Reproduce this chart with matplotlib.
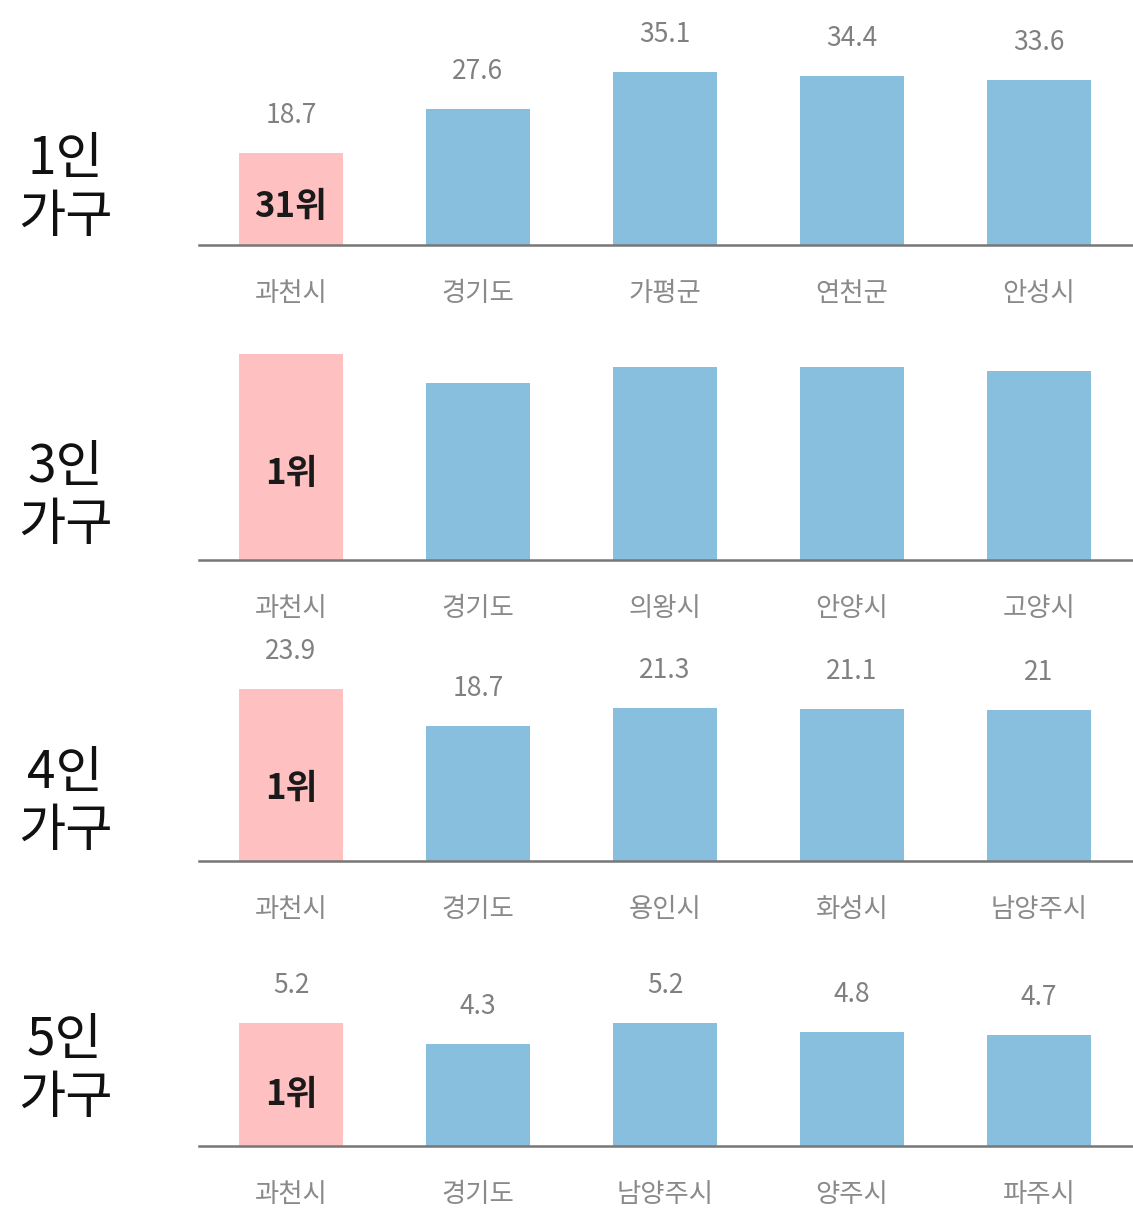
import matplotlib.pyplot as plt

plt.rcParams['font.family'] = ['Noto Sans CJK KR', 'DejaVu Sans']

# data
row_titles = ['1인\n가구', '3인\n가구', '4인\n가구', '5인\n가구']
cats1 = ['과천시', '경기도', '가평군', '연천군', '안성시']
vals1 = [18.7, 27.6, 35.1, 34.4, 33.6]
cats3 = ['과천시', '경기도', '의왕시', '안양시', '고양시']
vals3 = [25.5, 21.9, 23.9, 23.9, 23.4]   # no labels shown in source, estimated
cats4 = ['과천시', '경기도', '용인시', '화성시', '남양주시']
vals4 = [23.9, 18.7, 21.3, 21.1, 21.0]
cats5 = ['과천시', '경기도', '남양주시', '양주시', '파주시']
vals5 = [5.2, 4.3, 5.2, 4.8, 4.7]
ranks = ['31위', '1위', '1위', '1위']
show_values = [True, False, True, True]

pink = '#FFC0C1'
blue = '#88BFDE'

W, H = 1133, 1209
fig = plt.figure(figsize=(W / 100, H / 100), dpi=100)

# layout in pixels: baseline y, px per unit, row title centre y
baselines = [245, 560, 861, 1146]
px_per_unit = [4.92, 8.08, 7.2, 23.65]
title_y = [188, 496, 802, 1069]
ax_h = 230
left, right = 199, 1133
step = 187
first_center = 291

panels = [(cats1, vals1), (cats3, vals3), (cats4, vals4), (cats5, vals5)]

for k, (cats, vals) in enumerate(panels):
    b = baselines[k]
    ax = fig.add_axes([left / W, (H - b) / H, (right - left) / W, ax_h / H])
    ax.patch.set_visible(False)  # keep labels of the panel above visible
    xmin = -(first_center - left) / step
    ax.set_xlim(xmin, xmin + (right - left) / step)
    ax.set_ylim(0, ax_h / px_per_unit[k])
    colors = [pink] + [blue] * (len(vals) - 1)
    ax.bar(range(len(vals)), vals, width=104 / step, color=colors, zorder=2)

    for s in ['top', 'right', 'left']:
        ax.spines[s].set_visible(False)
    ax.spines['bottom'].set_color('#777777')
    ax.spines['bottom'].set_linewidth(1.8)
    ax.set_yticks([])
    ax.set_xticks(range(len(cats)))
    ax.set_xticklabels(cats, fontsize=19, color='#8a8a8a')
    ax.tick_params(axis='x', length=0, pad=25)

    if show_values[k]:
        for i, v in enumerate(vals):
            ax.annotate(f'{v:g}', (i, v), xytext=(0, 27), textcoords='offset points',
                        ha='center', va='center', fontsize=19, color='#808080',
                        annotation_clip=False)

    ax.text(0, vals[0] * 0.42, ranks[k], ha='center', va='center',
            fontsize=25, fontweight='bold', color='#1a1a1a', zorder=3)

    fig.text(65 / W, 1 - title_y[k] / H, row_titles[k], ha='center', va='center',
             fontsize=37, color='#111111', linespacing=1.12)

fig.savefig('out.png', dpi=100, facecolor='white')
